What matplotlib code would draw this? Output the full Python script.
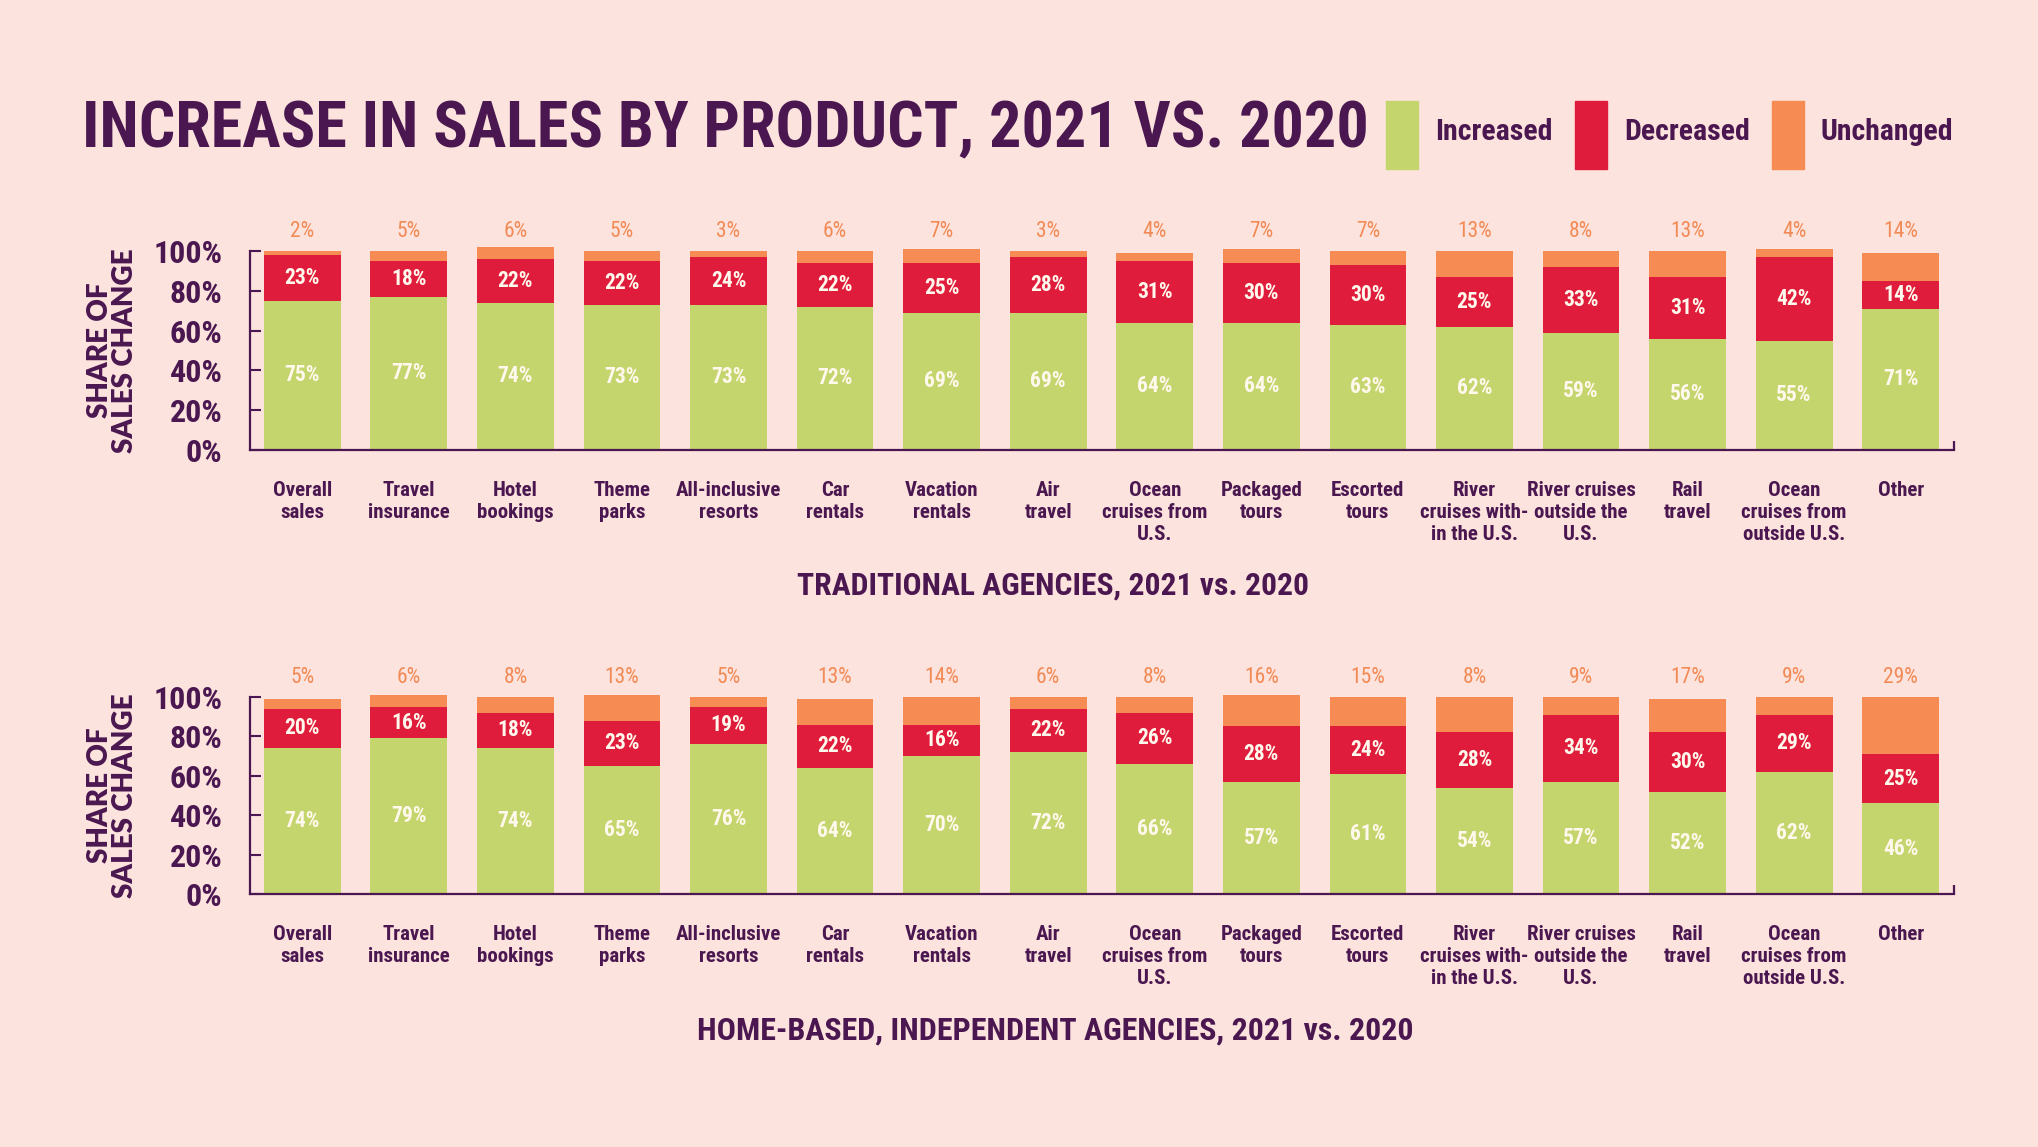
import os
import matplotlib
matplotlib.use("Agg")
import matplotlib.pyplot as plt
from matplotlib import font_manager
from matplotlib.font_manager import FontProperties
from matplotlib.patches import Rectangle
import numpy as np

# ---------------- data ----------------
categories = ["Overall\nsales", "Travel\ninsurance", "Hotel\nbookings", "Theme\nparks",
              "All-inclusive\nresorts", "Car\nrentals", "Vacation\nrentals", "Air\ntravel",
              "Ocean\ncruises from\nU.S.", "Packaged\ntours", "Escorted\ntours",
              "River\ncruises with-\nin the U.S.", "River cruises\noutside the\nU.S.",
              "Rail\ntravel", "Ocean\ncruises from\noutside U.S.", "Other"]

trad_increased = [75, 77, 74, 73, 73, 72, 69, 69, 64, 64, 63, 62, 59, 56, 55, 71]
trad_decreased = [23, 18, 22, 22, 24, 22, 25, 28, 31, 30, 30, 25, 33, 31, 42, 14]
trad_unchanged = [2, 5, 6, 5, 3, 6, 7, 3, 4, 7, 7, 13, 8, 13, 4, 14]

home_increased = [74, 79, 74, 65, 76, 64, 70, 72, 66, 57, 61, 54, 57, 52, 62, 46]
home_decreased = [20, 16, 18, 23, 19, 22, 16, 22, 26, 28, 24, 28, 34, 30, 29, 25]
# segment heights as drawn in the reference (River cruises within the U.S. is drawn ~18)
home_unchanged = [5, 6, 8, 13, 5, 13, 14, 6, 8, 16, 15, 18, 9, 17, 9, 29]
# printed labels for the unchanged share
home_unchanged_labels = ["5%", "6%", "8%", "13%", "5%", "13%", "14%", "6%", "8%", "16%",
                         "15%", "8%", "9%", "17%", "9%", "29%"]

yticks = [0, 20, 40, 60, 80, 100]
series_names = ["Increased", "Decreased", "Unchanged"]
title = "INCREASE IN SALES BY PRODUCT, 2021 VS. 2020"
sub_top = "TRADITIONAL AGENCIES, 2021 vs. 2020"
sub_bottom = "HOME-BASED, INDEPENDENT AGENCIES, 2021 vs. 2020"
ylabel = "SHARE OF\nSALES CHANGE"

# ---------------- style ----------------
BG = "#FCE3DD"
PURPLE = "#4A1750"
GREEN = "#C5D56D"
RED = "#E01C3C"
ORANGE = "#F68B53"
ORANGE_TXT = "#F28A55"
WHITE = "#FFF8EC"

WMAP = {"ultralight": 100, "light": 300, "normal": 400, "regular": 400, "book": 400,
        "medium": 500, "roman": 400, "semibold": 600, "demibold": 600, "demi": 600,
        "bold": 700, "heavy": 800, "extra bold": 800, "black": 900}
PREF = ["roboto condensed", "liberation sans narrow", "open sans condensed",
        "noto sans condensed", "dejavu sans condensed", "lato", "condensed", "narrow"]


def find_condensed(target_weight):
    best = None
    for f in font_manager.fontManager.ttflist:
        nm = f.name.lower()
        fn = os.path.basename(f.fname).lower()
        st = str(f.stretch).lower()
        cond = ("narrow" in nm or "condensed" in nm or "narrow" in fn or "condensed" in fn
                or st in ("condensed", "semi-condensed"))
        if not cond or "extra" in fn or "ultra" in fn:
            continue
        if f.style != "normal" or "italic" in fn:
            continue
        w = f.weight if isinstance(f.weight, int) else WMAP.get(str(f.weight).lower(), 400)
        key = nm + " " + fn
        rank = len(PREF)
        for i, p in enumerate(PREF):
            if p in key or p.replace(" ", "") in key:
                rank = i
                break
        score = (rank, abs(w - target_weight))
        if best is None or score < best[0]:
            best = (score, f.fname)
    if best is None:
        return None
    return best[1]


fb = find_condensed(700)
fr = find_condensed(400)


def fp(size, bold=True):
    path = fb if bold else fr
    if path:
        return FontProperties(fname=path, size=size)
    return FontProperties(family="DejaVu Sans", weight="bold" if bold else "normal",
                          stretch="condensed", size=size)


HEAVY = "Lato" if "Lato" in {f.name for f in font_manager.fontManager.ttflist} else "DejaVu Sans"

fig = plt.figure(figsize=(20.38, 11.47), dpi=100, facecolor=BG)

ax_top = fig.add_axes([0.1227, 0.6077, 0.8361, 0.1735])
ax_bot = fig.add_axes([0.1227, 0.2206, 0.8361, 0.1718])

x = np.arange(len(categories))
W = 0.72


def draw(ax, inc, dec, unc, unc_labels):
    ax.set_facecolor(BG)
    inc = np.array(inc); dec = np.array(dec); unc = np.array(unc)
    b1 = ax.bar(x, inc, W, color=GREEN, clip_on=False)
    b2 = ax.bar(x, dec, W, bottom=inc, color=RED, clip_on=False)
    ax.bar(x, unc, W, bottom=inc + dec, color=ORANGE, clip_on=False)
    ax.bar_label(b1, labels=[f"{v}%" for v in inc], label_type="center",
                 color=WHITE, fontproperties=fp(15.5, True))
    ax.bar_label(b2, labels=[f"{v}%" for v in dec], label_type="center",
                 color=WHITE, fontproperties=fp(15.5, True))
    for xi, lab in zip(x, unc_labels):
        ax.text(xi, 110, lab, ha="center", va="center", color=ORANGE_TXT,
                fontproperties=fp(15.5, False), clip_on=False)
    ax.set_xlim(-0.49, 15.5)
    ax.set_ylim(0, 100)
    for s in ["top", "right"]:
        ax.spines[s].set_visible(False)
    for s in ["left", "bottom"]:
        ax.spines[s].set_color(PURPLE)
        ax.spines[s].set_linewidth(1.6)
    ax.plot([1, 1], [0, 0.045], transform=ax.transAxes, color=PURPLE, lw=1.6,
            clip_on=False, solid_capstyle="butt")
    ax.set_yticks(yticks)
    ax.set_yticklabels([f"{t}%" for t in yticks], fontproperties=fp(23, True), color=PURPLE)
    ax.tick_params(axis="y", direction="in", length=8, width=1.5, color=PURPLE, pad=20)
    ax.set_xticks(x)
    ax.set_xticklabels(categories, fontproperties=fp(15, True),
                       color=PURPLE, linespacing=1.2, va="top")
    ax.tick_params(axis="x", length=0, pad=22)
    ax.set_ylabel(ylabel, fontsize=20, fontfamily=HEAVY, fontweight="heavy",
                  color=PURPLE, linespacing=0.95, labelpad=11)


draw(ax_top, trad_increased, trad_decreased, trad_unchanged,
     [f"{v}%" for v in trad_unchanged])
draw(ax_bot, home_increased, home_decreased, home_unchanged, home_unchanged_labels)

texts_to_fit = []

# title
t_title = fig.text(0.0402, 0.8867, title, fontproperties=fp(48, True),
                   color=PURPLE, ha="left", va="center")
texts_to_fit.append((t_title, 1285, 52))

# legend
leg_x = [1386, 1575, 1772]
leg_w = [118, 126, 133]
for lx, name, col, lw in zip(leg_x, series_names, [GREEN, RED, ORANGE], leg_w):
    fig.patches.append(Rectangle((lx / 2038, 1 - 169 / 1147), 32 / 2038, 68 / 1147,
                                 transform=fig.transFigure, color=col))
    t = fig.text((lx + 49) / 2038, 1 - 132 / 1147, name, fontproperties=fp(24, True),
                 color=PURPLE, ha="left", va="center")
    texts_to_fit.append((t, lw, 26))

# subtitles
t1 = fig.text(0.5167, 1 - 586 / 1147, sub_top, fontproperties=fp(24, True),
              color=PURPLE, ha="center", va="center")
t2 = fig.text(0.5177, 1 - 1031 / 1147, sub_bottom, fontproperties=fp(24, True),
              color=PURPLE, ha="center", va="center")
texts_to_fit.append((t1, 513, 26))
texts_to_fit.append((t2, 718, 26))

# fit text widths to the reference
fig.canvas.draw()
r = fig.canvas.get_renderer()
for t, target, maxsize in texts_to_fit:
    w = t.get_window_extent(r).width
    s = t.get_fontsize() * target / w
    t.set_fontsize(min(s, maxsize))

fig.savefig("out.png", dpi=100, facecolor=BG)
